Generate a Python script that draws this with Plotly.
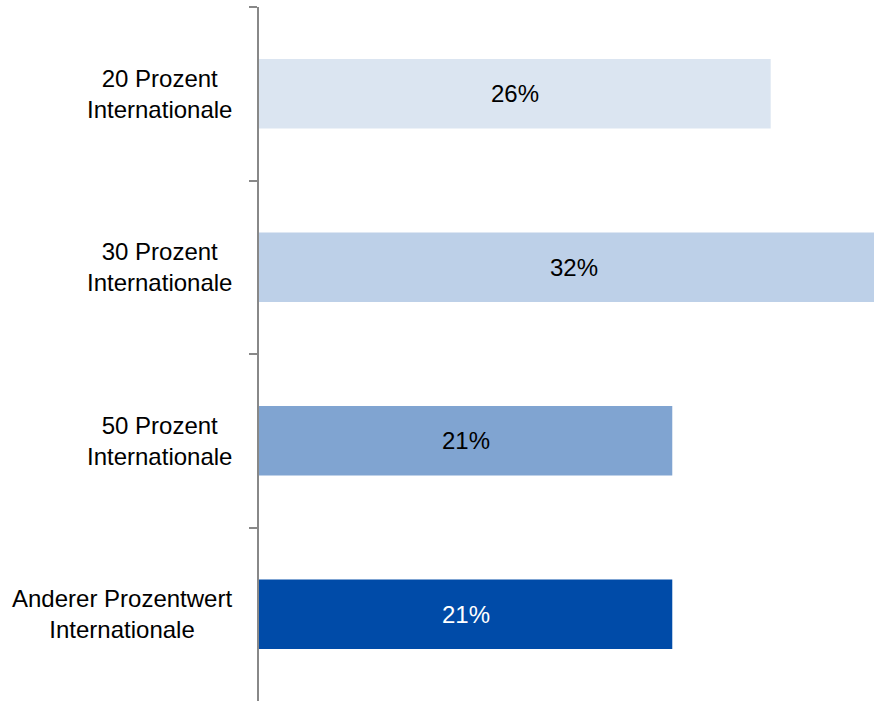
import plotly.graph_objects as go

categories = ["20 Prozent<br>Internationale", "30 Prozent<br>Internationale",
              "50 Prozent<br>Internationale", "Anderer Prozentwert<br>Internationale"]
values = [26, 32, 21, 21]
labels = ["26%", "32%", "21%", "21%"]
bar_colors = ["#dbe5f1", "#bdd0e8", "#80a4d1", "#004ba8"]
text_colors = ["#000000", "#000000", "#000000", "#ffffff"]

FONT = "Liberation Sans Narrow, Arial Narrow, Liberation Sans, Arial, sans-serif"
FS = 24

fig = go.Figure(go.Bar(
    y=categories, x=values, orientation="h",
    marker=dict(color=bar_colors, line=dict(width=0)),
    textposition="none",
    hoverinfo="skip",
))

# bar value labels, centred on each bar (the long bar runs past the plot edge)
for c, v, t, tc in zip(categories, values, labels, text_colors):
    fig.add_annotation(x=v / 2, xref="x", y=c, yref="y", text=t,
                       xanchor="center", yanchor="middle", showarrow=False,
                       font=dict(family=FONT, size=FS, color=tc))

# category labels, centred multi-line text left of the axis
for c in categories:
    fig.add_annotation(x=0, xref="paper", y=c, yref="y", text=c,
                       xanchor="right", yanchor="middle", align="center",
                       xshift=-25, showarrow=False,
                       font=dict(family=FONT, size=FS, color="#000000"))

fig.update_layout(
    width=874, height=701,
    margin=dict(l=259, r=0, t=7, b=0),
    paper_bgcolor="white", plot_bgcolor="white",
    bargap=0.6, showlegend=False,
    xaxis=dict(range=[0, 31.25], visible=False, fixedrange=True),
    yaxis=dict(autorange=False, range=[3.5, -0.5], type="category",
               showticklabels=False, ticks="outside", tickson="boundaries",
               ticklen=8, tickcolor="#888888", tickwidth=2,
               showline=True, linecolor="#888888", linewidth=2,
               showgrid=False, zeroline=False),
)

fig.write_html("out.html")
